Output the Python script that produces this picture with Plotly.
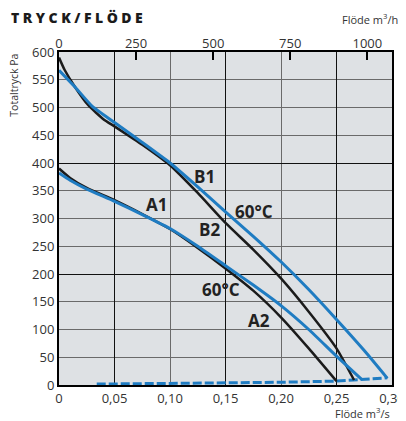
import plotly.graph_objects as go

# ---------------- data ----------------
# upper fan curve (B), black = normal temperature
b_black_x = [0, 0.005, 0.0144, 0.0264, 0.04, 0.05, 0.075, 0.10, 0.125, 0.15, 0.175, 0.20, 0.225, 0.25, 0.2658]
b_black_y = [590, 568, 537, 504, 479, 466, 433, 396, 346, 292, 244, 192, 132, 66, 9]
# upper fan curve (B), blue = 60 °C
b_blue_x = [0, 0.0144, 0.03, 0.05, 0.075, 0.10, 0.125, 0.15, 0.175, 0.20, 0.225, 0.25, 0.275, 0.2958]
b_blue_y = [567, 537, 502, 473, 437, 400, 357, 312, 268, 222, 172, 118, 62, 12]
# lower fan curve (A), black
a_black_x = [0, 0.01, 0.025, 0.05, 0.075, 0.10, 0.125, 0.15, 0.175, 0.20, 0.225, 0.25]
a_black_y = [390, 373, 355, 333, 308, 281, 247, 210, 170, 122, 66, 7]
# lower fan curve (A), blue = 60 °C
a_blue_x = [0, 0.01, 0.025, 0.05, 0.075, 0.10, 0.125, 0.15, 0.175, 0.20, 0.225, 0.25, 0.2727]
a_blue_y = [382, 369, 353, 331, 307, 282, 250, 215, 180, 143, 100, 52, 10]
# dashed system line
sys_x = [0.034, 0.06, 0.10, 0.15, 0.20, 0.25, 0.2658, 0.2727, 0.2958]
sys_y = [1.6, 2, 2.5, 3.5, 5, 7, 9, 10, 13]

# curve labels
label_text = ["B1", "60°C", "B2", "A1", "60°C", "A2"]
label_x = [0.1315, 0.1755, 0.1355, 0.0874, 0.146, 0.180]
label_y = [376, 313, 281, 326, 172, 117]

# tick labels
flow_s_ticks = [0, 0.05, 0.10, 0.15, 0.20, 0.25, 0.30]
flow_s_text = ["0", "0,05", "0,10", "0,15", "0,20", "0,25", "0,30"]
flow_h_ticks = [0, 250, 500, 750, 1000]
flow_h_text = ["0", "250", "500", "750", "1000"]
press_ticks = [0, 50, 100, 150, 200, 250, 300, 350, 400, 450, 500, 550, 600]
press_text = [str(v) for v in press_ticks]

# ---------------- styling ----------------
BLUE = "#1f7cc2"
BLACK = "#1b1b1b"
TICKFONT = dict(family="Open Sans", size=13, color="#333333")

fig = go.Figure()

fig.add_trace(go.Scatter(x=sys_x, y=sys_y, mode="lines",
                         line=dict(color=BLUE, width=3, dash="9px,3px"),
                         hoverinfo="skip", showlegend=False))
for xs, ys in [(b_black_x, b_black_y), (a_black_x, a_black_y)]:
    fig.add_trace(go.Scatter(x=xs, y=ys, mode="lines",
                             line=dict(color=BLACK, width=2.5, shape="spline", smoothing=0.5),
                             hoverinfo="skip", showlegend=False))
for xs, ys in [(b_blue_x, b_blue_y), (a_blue_x, a_blue_y)]:
    fig.add_trace(go.Scatter(x=xs, y=ys, mode="lines",
                             line=dict(color=BLUE, width=3, shape="spline", smoothing=0.5),
                             hoverinfo="skip", showlegend=False))

# helper traces so that the overlay axes are drawn
fig.add_trace(go.Scatter(x=flow_h_ticks, y=[None] * len(flow_h_ticks), xaxis="x2", yaxis="y",
                         mode="lines", hoverinfo="skip", showlegend=False))
fig.add_trace(go.Scatter(x=[None], y=[None], xaxis="x3", yaxis="y3",
                         mode="lines", hoverinfo="skip", showlegend=False))

for t, x, y in zip(label_text, label_x, label_y):
    fig.add_annotation(x=x, y=y, xref="x", yref="y", text=t, showarrow=False,
                       font=dict(family="Open Sans", size=17, color="#222222", weight=700),
                       xanchor="center", yanchor="middle")

SP = "\u2005"
fig.add_annotation(xref="paper", yref="paper", x=-0.150, y=1.105, xanchor="left", yanchor="middle",
                   text=SP.join("TRYCK/FLÖDE"), showarrow=False,
                   font=dict(family="Open Sans", size=14, color="#1b1b1b", weight=800))
fig.add_annotation(xref="paper", yref="paper", x=1.025, y=1.098, xanchor="right", yanchor="middle",
                   text="Flöde m<sup>3</sup>/h", showarrow=False,
                   font=dict(family="Open Sans", size=11, color="#333333"))
fig.add_annotation(xref="paper", yref="paper", x=1.0, y=-0.083, xanchor="right", yanchor="middle",
                   text="Flöde m<sup>3</sup>/s", showarrow=False,
                   font=dict(family="Open Sans", size=11, color="#333333"))
fig.add_annotation(xref="paper", yref="paper", x=-0.134, y=0.90, xanchor="center", yanchor="middle",
                   text="Totaltryck Pa", textangle=-90, showarrow=False,
                   font=dict(family="Open Sans", size=10.5, color="#333333"))

# the page body has an 8 px margin, so the figure is 8 px smaller and margins shifted
fig.update_layout(
    width=398, height=413, autosize=False,
    margin=dict(l=51, r=14, t=44, b=36, autoexpand=False),
    paper_bgcolor="white", plot_bgcolor="#dee1e4",
    showlegend=False,
    xaxis=dict(range=[0, 0.30], tickvals=flow_s_ticks, ticktext=flow_s_text, tickfont=TICKFONT,
               showgrid=True, gridcolor="#6a6a6a", gridwidth=1, zeroline=False, automargin=False,
               ticklabeloverflow="allow",
               showline=True, linecolor="black", linewidth=2, mirror=True, ticks=""),
    xaxis2=dict(range=[0, 1080], overlaying="x", side="top", anchor="y", automargin=False,
                tickvals=flow_h_ticks, ticktext=flow_h_text, tickfont=TICKFONT,
                ticklabeloverflow="allow",
                ticks="inside", ticklen=8, tickwidth=2, tickcolor="black",
                showgrid=False, zeroline=False, showline=False),
    xaxis3=dict(range=[0, 0.30], overlaying="x", anchor="y", tick0=0.05, dtick=0.1, automargin=False,
                showticklabels=False, ticks="", showgrid=True, gridcolor="#111111", gridwidth=1,
                zeroline=False, showline=False),
    yaxis=dict(range=[0, 600], tickvals=press_ticks, ticktext=press_text, tickfont=TICKFONT,
               showgrid=True, gridcolor="#6a6a6a", gridwidth=1, zeroline=False, automargin=False,
               showline=True, linecolor="black", linewidth=2, mirror=True, ticks=""),
    yaxis3=dict(range=[0, 600], overlaying="y", anchor="x", tick0=0, dtick=200, automargin=False,
                showticklabels=False, ticks="", showgrid=True, gridcolor="#111111", gridwidth=1,
                zeroline=False, showline=False),
)

fig.write_html("out.html")
